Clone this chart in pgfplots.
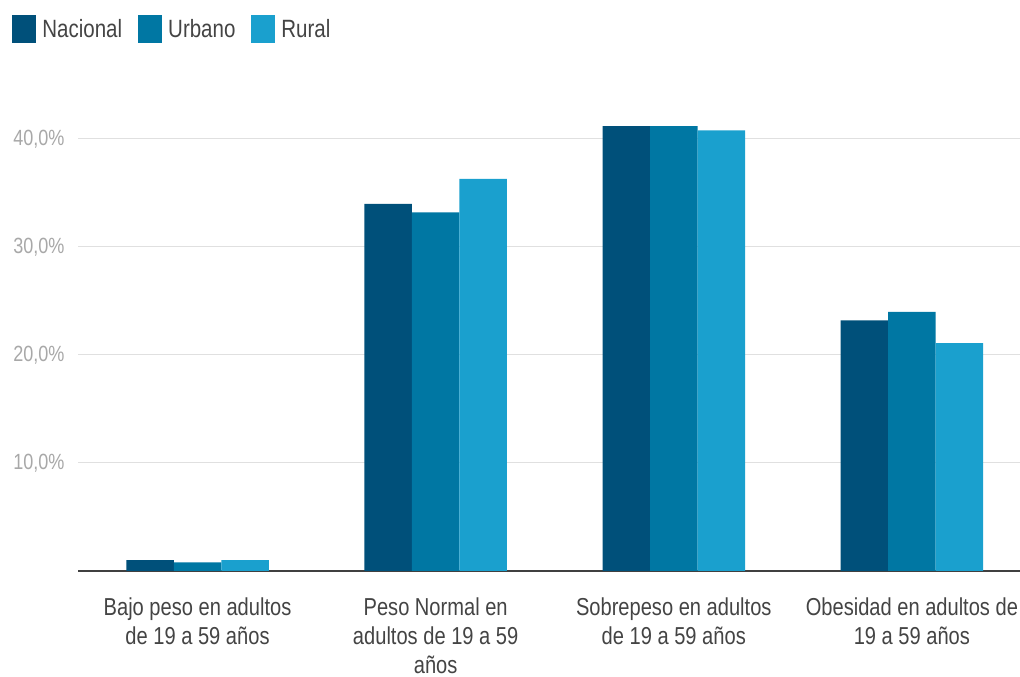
\documentclass[border=0pt]{standalone}
\usepackage{pgfplots}
\pgfplotsset{compat=1.18}
\usepackage{fontspec}
\setmainfont{Liberation Sans}[FakeStretch=0.82]
\definecolor{cNac}{HTML}{00507A}
\definecolor{cUrb}{HTML}{0077A3}
\definecolor{cRur}{HTML}{1AA0CE}
\definecolor{tickgray}{HTML}{A8A8A8}
\definecolor{labgray}{HTML}{444444}
\begin{document}
\begin{tikzpicture}[x=1pt,y=1pt]
\useasboundingbox (0,0) rectangle (1020,677);
\begin{axis}[
  at={(78pt,106pt)}, anchor=south west,
  scale only axis, width=942pt, height=464.4pt,
  ybar=0pt, bar width=47.5pt,
  xmin=-0.502, xmax=3.454, ymin=0, ymax=43,
  xtick={0,1,2,3},
  xticklabels={{Bajo peso en adultos\\de 19 a 59 años},{Peso Normal en\\adultos de 19 a 59\\años},{Sobrepeso en adultos\\de 19 a 59 años},{Obesidad en adultos de\\19 a 59 años}},
  xticklabel style={align=center, font=\fontsize{24.5}{29}\selectfont, text=labgray, yshift=-23pt},
  ytick={10,20,30,40},
  yticklabel={\pgfmathprintnumber[fixed,fixed zerofill,precision=1,use comma]{\tick}\%},
  yticklabel style={font=\fontsize{22}{24}\selectfont, text=tickgray, xshift=-10pt},
  /pgf/number format/assume math mode=true,
  major tick length=0pt,
  axis x line*=bottom, axis y line*=left,
  y axis line style={draw=none},
  x axis line style={-, draw=black!75, line width=1.3pt},
  ymajorgrids, grid style={draw=black!12, line width=1pt},
  legend columns=3,
  legend style={at={(axis description cs:-0.073,1.167)}, anchor=west, draw=none, fill=none,
    font=\fontsize{25}{27}\selectfont, text=labgray,
    /tikz/every odd column/.append style={column sep=4pt},
    /tikz/every even column/.append style={column sep=14pt}},
  legend image code/.code={\path[#1, draw=none] (0pt,-14pt) rectangle (24pt,14pt);},
]
\addplot[fill=cNac, draw=none] coordinates {(0,1.0) (1,34.0) (2,41.2) (3,23.2)};
\addplot[fill=cUrb, draw=none] coordinates {(0,0.8) (1,33.2) (2,41.2) (3,24.0)};
\addplot[fill=cRur, draw=none] coordinates {(0,1.0) (1,36.3) (2,40.8) (3,21.1)};
\legend{Nacional,Urbano,Rural}
\end{axis}
\end{tikzpicture}
\end{document}
